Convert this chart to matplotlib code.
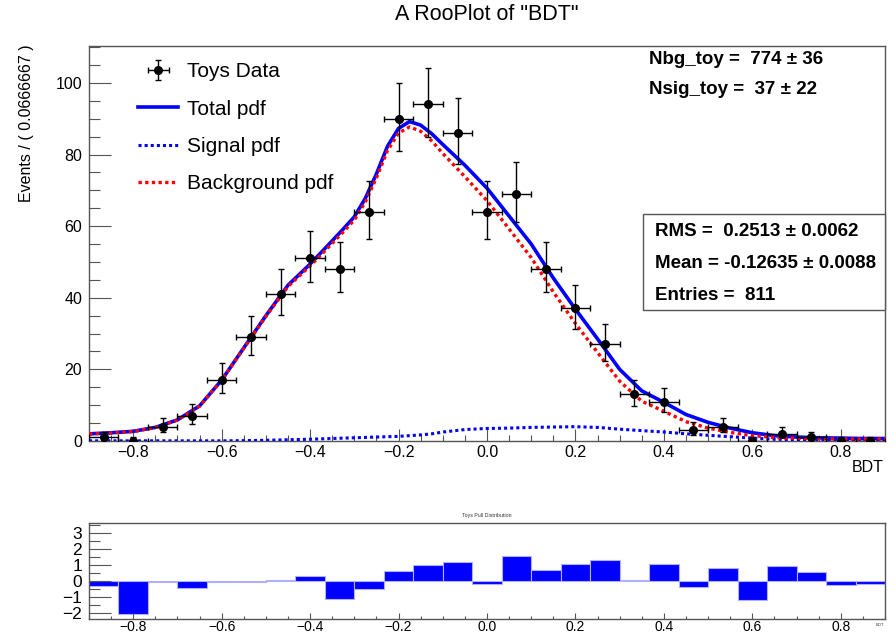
import numpy as np
import matplotlib
matplotlib.use('Agg')
import matplotlib.pyplot as plt
from matplotlib.patches import Rectangle
from matplotlib.ticker import MultipleLocator

plt.rcParams['font.family'] = ['Liberation Sans', 'DejaVu Sans']

# Binning of the BDT histogram
x_lo, x_hi = -0.9, 0.9
n_bins = 27

# Toy data counts per bin
counts = [1, 0, 4, 7, 17, 29, 41, 51, 48, 64, 90, 94, 86, 64,
          69, 48, 37, 27, 13, 11, 3, 4, 0, 2, 1, 0, 0]

# Pdf curves
curve_x = [-0.9, -0.85, -0.8, -0.75, -0.7, -0.65, -0.6, -0.55, -0.5, -0.45,
           -0.4, -0.35, -0.325, -0.3, -0.275, -0.25, -0.225, -0.2, -0.175, -0.15,
           -0.125, -0.1, -0.05, 0.0, 0.05, 0.1, 0.15, 0.2, 0.25, 0.3,
           0.35, 0.4, 0.45, 0.5, 0.55, 0.6, 0.65, 0.7, 0.75, 0.8,
           0.85, 0.9]
total_pdf = [2.0, 2.3, 2.7, 3.8, 5.9, 9.8, 17.0, 26.0, 35.0, 43.5,
             49.4, 55.9, 59.2, 62.6, 67.8, 74.6, 82.3, 87.3, 89.2, 88.2,
             85.8, 82.8, 77.0, 70.6, 62.8, 55.0, 45.5, 36.8, 28.5, 20.0,
             14.0, 10.8, 7.4, 5.2, 3.6, 2.3, 1.5, 1.1, 0.9, 0.8,
             0.7, 0.7]
signal_pdf = [0.05, 0.05, 0.05, 0.05, 0.05, 0.05, 0.05, 0.1, 0.2, 0.35,
              0.5, 0.7, 0.8, 0.9, 1.0, 1.1, 1.2, 1.3, 1.5, 1.7,
              2.0, 2.5, 3.2, 3.5, 3.6, 3.8, 3.9, 4.0, 3.8, 3.3,
              2.9, 2.5, 2.0, 1.6, 1.2, 0.8, 0.5, 0.35, 0.25, 0.2,
              0.15, 0.1]
bkg_pdf = [1.95, 2.25, 2.65, 3.75, 5.85, 9.75, 16.95, 25.9, 34.8, 43.15,
           48.9, 55.2, 58.4, 61.7, 66.8, 73.5, 81.1, 86.0, 87.7, 86.5,
           83.8, 80.3, 73.8, 67.1, 59.2, 51.2, 41.6, 32.8, 24.7, 16.7,
           11.1, 8.3, 5.4, 3.6, 2.4, 1.5, 1.0, 0.75, 0.65, 0.6,
           0.55, 0.6]

# Pull per bin
pulls = [-0.33, -2.1, -0.08, -0.44, -0.08, -0.1, 0.04, 0.29, -1.15, -0.54,
         0.6, 1.0, 1.17, -0.2, 1.56, 0.65, 1.06, 1.27, 0.03, 1.06,
         -0.4, 0.81, -1.19, 0.92, 0.56, -0.29, -0.23]

bin_w = (x_hi - x_lo) / n_bins
centers = x_lo + bin_w * (np.arange(n_bins) + 0.5)
counts = np.array(counts, dtype=float)
err_lo = np.sqrt(counts + 0.25) - 0.5
err_hi = np.sqrt(counts + 0.25) + 0.5

W, H = 896, 633
fig = plt.figure(figsize=(W / 100, H / 100), dpi=100)

def fx(px):
    return px / W

def fy(py):
    return 1 - py / H

frame_col = '#555555'

# Main frame
ax = fig.add_axes([fx(89), fy(441), fx(885) - fx(89), fy(46) - fy(441)])
ax.plot(curve_x, total_pdf, color='#0000ff', lw=2.6, label='Total pdf', zorder=2)
ax.plot(curve_x, signal_pdf, color='#0000ff', lw=2.2, ls=(0, (1, 1)), label='Signal pdf', zorder=3)
ax.plot(curve_x, bkg_pdf, color='#ff0000', lw=2.4, ls=(0, (1, 1)), label='Background pdf', zorder=3)
eb = ax.errorbar(centers, counts, xerr=bin_w / 2, yerr=[err_lo, err_hi], fmt='o', color='black',
                 ms=5.5, elinewidth=1, capsize=2.5, capthick=1, label='Toys Data', zorder=4)

ax.set_xlim(x_lo, x_hi)
ax.set_ylim(0, 110.3)
ax.xaxis.set_major_locator(MultipleLocator(0.2))
ax.xaxis.set_minor_locator(MultipleLocator(0.05))
ax.yaxis.set_major_locator(MultipleLocator(20))
ax.yaxis.set_minor_locator(MultipleLocator(5))
ax.tick_params(axis='x', which='major', direction='in', length=8.5, width=0.8, labelsize=11.5, pad=3, color=frame_col)
ax.tick_params(axis='x', which='minor', direction='in', length=4, width=0.8, color=frame_col)
ax.tick_params(axis='y', which='major', direction='in', length=16, width=0.8, labelsize=11.5, pad=5, color=frame_col)
ax.tick_params(axis='y', which='minor', direction='in', length=8, width=0.8, color=frame_col)
for s in ax.spines.values():
    s.set_color(frame_col)
    s.set_linewidth(1)

handles, labels = ax.get_legend_handles_labels()
order = [labels.index(n) for n in ['Toys Data', 'Total pdf', 'Signal pdf', 'Background pdf']]
ax.legend([handles[i] for i in order], [labels[i] for i in order],
          loc='upper left', bbox_to_anchor=(fx(130), fy(54)), bbox_transform=fig.transFigure,
          frameon=False, fontsize=15, handlelength=1.9, handletextpad=0.45, labelspacing=0.88,
          borderaxespad=0)

# Fit parameters
fig.text(fx(649), fy(60), u'Nbg_toy =  774 \u00b1 36', fontsize=13.5, fontweight='bold', va='center')
fig.text(fx(649), fy(90), u'Nsig_toy =  37 \u00b1 22', fontsize=13.5, fontweight='bold', va='center')

# Stats box
fig.patches.append(Rectangle((fx(643), fy(310)), fx(885) - fx(643), fy(214) - fy(310),
                             transform=fig.transFigure, facecolor='white', edgecolor=frame_col,
                             lw=1, zorder=5))
stats = [u'RMS =  0.2513 \u00b1 0.0062', u'Mean = -0.12635 \u00b1 0.0088', 'Entries =  811']
for i, t in enumerate(stats):
    fig.text(fx(655), fy(231 + 32 * i), t, fontsize=13.5, fontweight='bold', va='center', zorder=6)

fig.text(fx(487), fy(15), 'A RooPlot of "BDT"', fontsize=15.5, ha='center', va='center')
fig.text(fx(27), fy(44), 'Events / ( 0.0666667 )', fontsize=11.5, rotation=90, ha='center', va='top')
fig.text(fx(884), fy(468), 'BDT', fontsize=11.5, ha='right', va='center')

# Pull frame
axp = fig.add_axes([fx(89), fy(619), fx(885) - fx(89), fy(523) - fy(619)])
axp.bar(centers, pulls, width=bin_w, color='#0000ff', edgecolor='#b0b0ff', linewidth=0.8)
axp.set_xlim(x_lo, x_hi)
axp.set_ylim(-2.4, 3.6)
axp.xaxis.set_major_locator(MultipleLocator(0.2))
axp.xaxis.set_minor_locator(MultipleLocator(0.05))
axp.yaxis.set_major_locator(MultipleLocator(1))
axp.yaxis.set_minor_locator(MultipleLocator(0.5))
axp.tick_params(axis='x', which='major', direction='in', length=4, width=0.8, labelsize=10, pad=1, color=frame_col)
axp.tick_params(axis='x', which='minor', direction='in', length=2, width=0.8, color=frame_col)
axp.tick_params(axis='y', which='major', direction='in', length=16, width=0.8, labelsize=12.5, pad=5, color=frame_col)
axp.tick_params(axis='y', which='minor', direction='in', length=8, width=0.8, color=frame_col)
for s in axp.spines.values():
    s.set_color(frame_col)
    s.set_linewidth(1)

fig.text(fx(487), fy(515), 'Toys Pull Distribution', fontsize=3.8, ha='center', va='center', color='#333333')
fig.text(fx(884), fy(625), 'BDT', fontsize=3, ha='right', va='center', color='#333333')

fig.savefig('out.png', dpi=100)
